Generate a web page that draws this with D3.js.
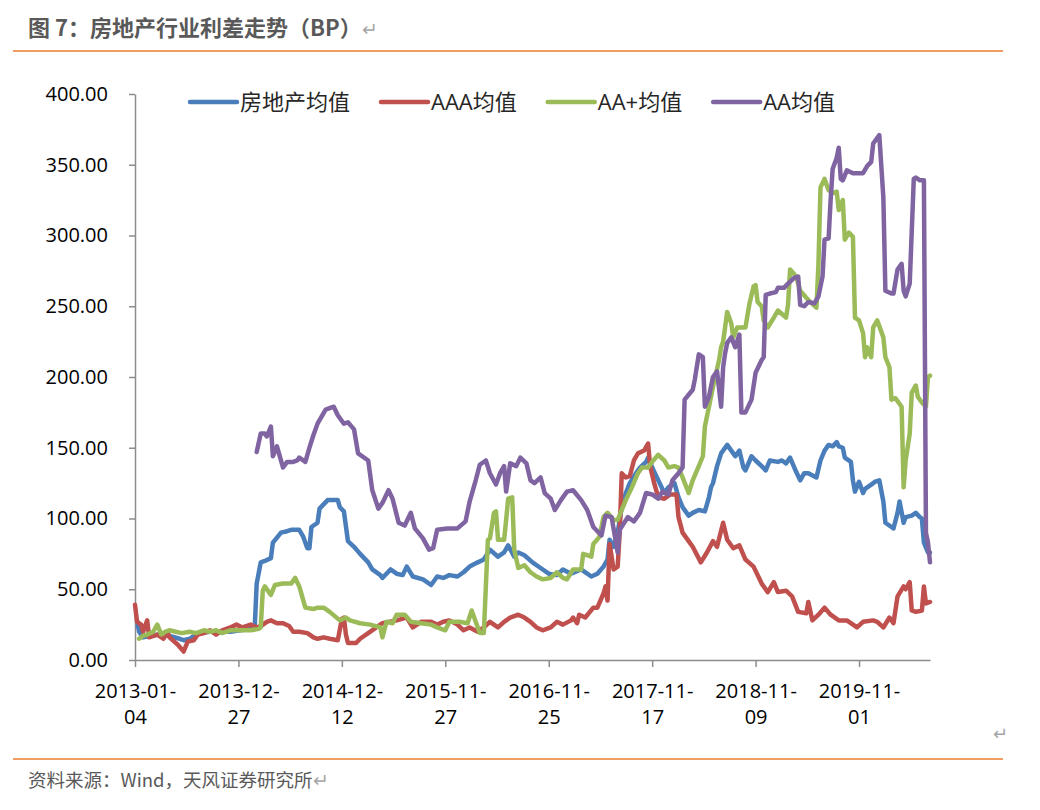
<!DOCTYPE html>
<html>
<head>
<meta charset="utf-8">
<script src="https://cdn.jsdelivr.net/npm/d3@7"></script>
<style>
  body { margin: 0; background: #fff; }
  svg text { font-family: 'Open Sans', 'Noto Sans CJK SC', sans-serif; }
</style>
</head>
<body>
<div id="chart"></div>
<script>
// weekly categories, one label every 51 weeks
const tickLabels = ['2013-01-04', '2013-12-27', '2014-12-12', '2015-11-27', '2016-11-25', '2017-11-17', '2018-11-09', '2019-11-01']
const labelEvery = 51
const categoryCount = 393
const yTicks = [0, 50, 100, 150, 200, 250, 300, 350, 400]
const seriesNames = ['房地产均值', 'AAA均值', 'AA+均值', 'AA均值']

// [category index, spread in BP]
const realEstateAvg = [[1, 28], [2, 20], [4, 16], [7, 17], [12, 18], [17, 17], [22, 15], [24, 14], [27, 15], [30, 18], [32, 19], [37, 20], [42, 20], [47, 20], [52, 21], [57, 22], [59, 22], [60, 54], [62, 69], [64, 70], [67, 72], [68, 83], [72, 90], [75, 91], [77, 92], [81, 92], [83, 87], [85, 79], [86, 79], [87, 94], [90, 97], [91, 107], [95, 113], [100, 113], [101, 108], [103, 105], [105, 84], [108, 80], [111, 75], [115, 69], [117, 64], [121, 60], [122, 58], [126, 64], [129, 61], [132, 60], [134, 66], [137, 59], [142, 57], [146, 53], [149, 59], [152, 58], [155, 60], [159, 59], [162, 62], [165, 66], [169, 69], [172, 71], [175, 78], [179, 73], [182, 76], [184, 81], [187, 73], [189, 76], [192, 74], [196, 69], [200, 65], [204, 61], [208, 60], [211, 64], [215, 61], [220, 64], [225, 59], [228, 61], [231, 66], [233, 71], [234, 85], [236, 80], [238, 90], [240, 108], [242, 118], [244, 125], [247, 132], [249, 136], [252, 140], [253, 143], [256, 133], [258, 127], [261, 118], [263, 122], [266, 125], [268, 115], [270, 108], [273, 102], [275, 104], [278, 106], [281, 105], [283, 115], [284, 122], [285, 125], [287, 137], [289, 146], [292, 152], [295, 146], [296, 144], [298, 148], [300, 136], [301, 134], [304, 144], [306, 141], [309, 137], [311, 134], [313, 141], [317, 140], [319, 141], [321, 139], [323, 143], [326, 133], [328, 127], [330, 132], [332, 132], [336, 129], [338, 141], [340, 148], [342, 152], [344, 151], [346, 154], [347, 151], [349, 150], [350, 143], [353, 140], [354, 127], [355, 119], [357, 126], [359, 118], [360, 121], [363, 124], [365, 126], [367, 127], [369, 112], [370, 97], [373, 94], [374, 93], [376, 104], [377, 112], [379, 97], [380, 101], [383, 102], [385, 104], [387, 101], [388, 100], [389, 83], [391, 76], [392, 76]]

const aaaAvg = [[0, 39], [1, 27], [3, 25], [4, 20], [6, 28], [7, 16], [11, 18], [14, 15], [16, 20], [17, 16], [21, 11], [24, 6], [26, 13], [29, 14], [31, 18], [34, 19], [37, 21], [40, 18], [43, 21], [47, 23], [50, 25], [53, 23], [57, 25], [60, 23], [62, 24], [65, 27], [67, 28], [70, 26], [73, 26], [76, 24], [78, 20], [81, 20], [85, 19], [88, 16], [90, 15], [93, 16], [96, 15], [100, 14], [102, 29], [103, 30], [104, 18], [105, 12], [107, 12], [109, 12], [111, 15], [115, 19], [119, 23], [122, 26], [129, 28], [134, 30], [137, 23], [141, 27], [146, 27], [149, 25], [152, 27], [155, 28], [159, 25], [162, 21], [165, 23], [169, 20], [172, 23], [175, 27], [179, 23], [182, 27], [185, 30], [189, 32], [192, 30], [195, 27], [198, 23], [201, 21], [205, 23], [208, 27], [211, 25], [215, 28], [216, 30], [218, 26], [219, 32], [222, 30], [226, 37], [228, 37], [231, 47], [232, 52], [233, 42], [234, 82], [236, 64], [238, 66], [239, 90], [240, 132], [242, 129], [244, 130], [246, 141], [248, 146], [251, 148], [253, 153], [254, 137], [256, 125], [258, 115], [261, 114], [264, 117], [267, 117], [268, 101], [270, 90], [273, 84], [275, 80], [279, 69], [282, 76], [285, 84], [287, 80], [290, 97], [292, 85], [295, 79], [298, 81], [301, 71], [305, 66], [309, 54], [312, 48], [315, 55], [317, 48], [321, 49], [324, 45], [327, 34], [331, 33], [332, 41], [334, 28], [337, 32], [340, 37], [343, 32], [347, 28], [351, 28], [356, 23], [359, 27], [364, 28], [366, 27], [369, 23], [372, 30], [374, 26], [376, 45], [379, 52], [380, 50], [382, 55], [383, 35], [385, 34], [388, 35], [389, 52], [390, 40], [392, 41]]

const aaPlusAvg = [[2, 15], [4, 17], [6, 18], [9, 20], [11, 25], [13, 18], [15, 20], [17, 21], [20, 20], [23, 19], [27, 20], [30, 19], [34, 21], [37, 20], [40, 21], [43, 19], [47, 21], [52, 21], [57, 21], [61, 22], [62, 23], [63, 49], [64, 52], [67, 46], [69, 53], [73, 54], [77, 54], [79, 58], [81, 52], [84, 37], [88, 36], [90, 37], [93, 37], [96, 34], [101, 28], [104, 30], [106, 28], [111, 26], [116, 25], [121, 23], [122, 16], [124, 27], [127, 26], [129, 32], [133, 32], [136, 27], [141, 26], [146, 25], [149, 23], [153, 21], [155, 27], [160, 27], [164, 26], [166, 35], [168, 27], [170, 19], [172, 19], [174, 85], [175, 86], [177, 104], [178, 105], [179, 85], [182, 85], [183, 99], [184, 114], [186, 115], [187, 78], [189, 65], [192, 67], [195, 62], [198, 59], [201, 57], [205, 58], [208, 62], [211, 58], [213, 57], [216, 64], [220, 64], [221, 75], [225, 73], [226, 82], [229, 87], [231, 101], [233, 104], [236, 99], [238, 99], [242, 113], [245, 122], [248, 132], [250, 136], [253, 136], [255, 140], [258, 145], [261, 141], [263, 136], [266, 137], [268, 136], [270, 129], [273, 118], [275, 127], [278, 137], [280, 144], [281, 165], [283, 179], [285, 193], [288, 212], [289, 221], [290, 225], [292, 246], [294, 238], [295, 228], [297, 235], [301, 235], [303, 252], [305, 264], [306, 265], [307, 253], [309, 250], [310, 240], [312, 235], [315, 242], [317, 247], [321, 242], [322, 251], [323, 276], [326, 271], [328, 261], [331, 256], [333, 253], [336, 249], [337, 280], [338, 334], [340, 340], [342, 332], [344, 330], [346, 331], [347, 318], [349, 325], [350, 297], [352, 302], [354, 299], [355, 242], [357, 240], [359, 231], [360, 214], [361, 221], [363, 214], [364, 235], [366, 240], [369, 228], [370, 214], [372, 207], [373, 184], [375, 185], [378, 179], [379, 122], [380, 141], [382, 160], [383, 189], [385, 194], [386, 186], [388, 182], [390, 179], [391, 200], [392, 201]]

const aaAvg = [[60, 147], [62, 160], [64, 160], [65, 158], [67, 165], [68, 144], [70, 151], [73, 136], [75, 140], [78, 140], [80, 141], [81, 143], [84, 140], [86, 150], [88, 159], [90, 167], [94, 177], [98, 179], [100, 173], [103, 167], [105, 168], [108, 163], [110, 146], [115, 141], [117, 120], [120, 107], [122, 111], [125, 120], [127, 114], [130, 97], [133, 95], [136, 104], [138, 93], [142, 86], [145, 78], [147, 79], [149, 92], [154, 93], [159, 93], [163, 98], [165, 112], [168, 127], [170, 138], [173, 141], [175, 132], [178, 124], [180, 132], [182, 137], [183, 119], [185, 139], [188, 137], [190, 143], [193, 139], [195, 127], [197, 125], [200, 129], [202, 118], [205, 114], [207, 106], [210, 113], [213, 119], [216, 120], [220, 113], [223, 106], [226, 94], [230, 88], [232, 102], [235, 101], [238, 76], [239, 92], [243, 101], [246, 98], [249, 104], [252, 118], [255, 117], [258, 114], [260, 119], [263, 117], [265, 127], [268, 132], [270, 136], [271, 184], [275, 191], [276, 198], [278, 216], [280, 214], [281, 179], [283, 186], [285, 200], [287, 204], [289, 179], [290, 207], [291, 217], [292, 224], [294, 228], [296, 221], [298, 230], [299, 175], [301, 175], [304, 184], [306, 203], [309, 212], [310, 214], [311, 258], [313, 259], [316, 260], [317, 263], [320, 263], [322, 266], [325, 270], [327, 271], [328, 251], [330, 250], [332, 253], [335, 252], [337, 257], [339, 271], [340, 297], [342, 298], [343, 325], [344, 347], [346, 355], [347, 362], [348, 340], [349, 339], [351, 346], [354, 344], [359, 344], [361, 349], [363, 352], [364, 365], [366, 369], [367, 371], [369, 327], [370, 261], [373, 259], [374, 259], [376, 276], [378, 280], [379, 261], [380, 257], [382, 266], [384, 340], [385, 341], [387, 339], [389, 339], [390, 90], [391, 83], [392, 69]]

class SpreadChart {
  constructor (parentSelector, width, height) {
    this.size = { width: width, height: height }
    this.margin = { left: 135, right: 110, top: 94, bottom: 150 }
    this.svg = d3.select(parentSelector)
      .append('svg')
      .attr('width', width)
      .attr('height', height)
    this.xScaler = d3.scaleLinear()
      .domain([0, categoryCount - 1])
      .range([this.margin.left, width - this.margin.right])
    this.yScaler = d3.scaleLinear()
      .domain([0, 400])
      .range([height - this.margin.bottom, this.margin.top])
    this.colors = ['#4a7ebb', '#c0504d', '#9bbb59', '#8064a2']
    this.axisColor = '#8c8c8c'
    this.ruleColor = '#ed7d31'
  }

  create (series) {
    this.__createFrame()
    this.__createYAxis()
    this.__createXAxis()
    this.__createLines(series)
    this.__createLegend()
  }

  __createFrame () {
    const title = this.svg.append('text')
      .attr('x', 28)
      .attr('y', 36)
      .style('font-family', "'Noto Sans CJK SC', sans-serif")
      .style('font-size', '22px')
      .style('font-weight', 'bold')
      .attr('fill', '#595959')
      .text('图 7：房地产行业利差走势（BP）')
    title.append('tspan')
      .style('font-weight', 'normal')
      .style('font-size', '19px')
      .attr('fill', '#a6a6a6')
      .text('↵')

    this.svg.append('line')
      .attr('x1', 13).attr('x2', 1003)
      .attr('y1', 51).attr('y2', 51)
      .attr('stroke', this.ruleColor)
      .attr('stroke-width', 1.5)
    this.svg.append('line')
      .attr('x1', 13).attr('x2', 1003)
      .attr('y1', 759).attr('y2', 759)
      .attr('stroke', this.ruleColor)
      .attr('stroke-width', 1.5)

    this.svg.append('text')
      .attr('x', 993)
      .attr('y', 740)
      .style('font-family', "'Noto Sans CJK SC', sans-serif")
      .style('font-size', '18px')
      .attr('fill', '#a6a6a6')
      .text('↵')

    const footer = this.svg.append('text')
      .attr('x', 28)
      .attr('y', 787)
      .style('font-family', "'Noto Sans CJK SC', sans-serif")
      .style('font-size', '18.5px')
      .attr('fill', '#595959')
      .text('资料来源：Wind，天风证券研究所')
    footer.append('tspan')
      .attr('fill', '#a6a6a6')
      .text('↵')
  }

  __createYAxis () {
    const yAxis = d3.axisLeft(this.yScaler)
      .tickValues(yTicks)
      .tickFormat(d3.format('.2f'))
      .tickSize(6)
      .tickSizeOuter(0)
      .tickPadding(21)

    const g = this.svg.append('g')
      .classed('y-axis', true)
      .attr('transform', `translate(${this.margin.left}, 0)`)
      .call(yAxis)
    g.select('.domain').attr('stroke', this.axisColor).attr('stroke-width', 1.5)
    g.selectAll('.tick line').attr('stroke', this.axisColor).attr('stroke-width', 1.5)
    g.selectAll('.tick text')
      .attr('fill', '#000')
      .style('font-size', '20px')
  }

  __createXAxis () {
    const tickIdx = tickLabels.map((d, i) => i * labelEvery)
    const xAxis = d3.axisBottom(this.xScaler)
      .tickValues(tickIdx)
      .tickFormat(i => tickLabels[i / labelEvery])
      .tickSize(7)
      .tickSizeOuter(0)
      .tickPadding(10)

    const g = this.svg.append('g')
      .classed('x-axis', true)
      .attr('transform', `translate(0, ${this.size.height - this.margin.bottom})`)
      .call(xAxis)
    g.select('.domain').attr('stroke', this.axisColor).attr('stroke-width', 1.5)
    g.selectAll('.tick line').attr('stroke', this.axisColor).attr('stroke-width', 1.5)

    // dates wrap onto two lines after the month
    g.selectAll('.tick text')
      .attr('fill', '#000')
      .style('font-size', '20px')
      .each(function (label) {
        const full = tickLabels[label / labelEvery]
        const text = d3.select(this).text(null)
        text.append('tspan').attr('x', 0).attr('dy', '1.05em').text(full.slice(0, 8))
        text.append('tspan').attr('x', 0).attr('dy', '1.3em').text(full.slice(8))
      })
  }

  __createLines (series) {
    const line = d3.line()
      .x(d => this.xScaler(d[0]))
      .y(d => this.yScaler(d[1]))

    this.svg.append('g')
      .classed('lines', true)
      .selectAll('path')
      .data(series)
      .enter()
      .append('path')
      .attr('d', d => line(d))
      .attr('fill', 'none')
      .attr('stroke', (d, i) => this.colors[i])
      .attr('stroke-width', 4.5)
      .attr('stroke-linejoin', 'round')
      .attr('stroke-linecap', 'round')
  }

  __createLegend () {
    const legend = this.svg.append('g').classed('legend', true)
    let x = 190
    seriesNames.forEach((name, idx) => {
      legend.append('line')
        .attr('x1', x).attr('x2', x + 47)
        .attr('y1', 102).attr('y2', 102)
        .attr('stroke', this.colors[idx])
        .attr('stroke-width', 4.5)
        .attr('stroke-linecap', 'round')
      const label = legend.append('text')
        .attr('x', x + 50)
        .attr('y', 102)
        .attr('dy', '0.36em')
        .style('font-size', '22px')
        .attr('fill', '#262626')
        .text(name)
      x += 50 + label.node().getComputedTextLength() + 31
    })
  }
}

const chart = new SpreadChart('#chart', 1040, 810)
chart.create([realEstateAvg, aaaAvg, aaPlusAvg, aaAvg])
</script>
</body>
</html>
